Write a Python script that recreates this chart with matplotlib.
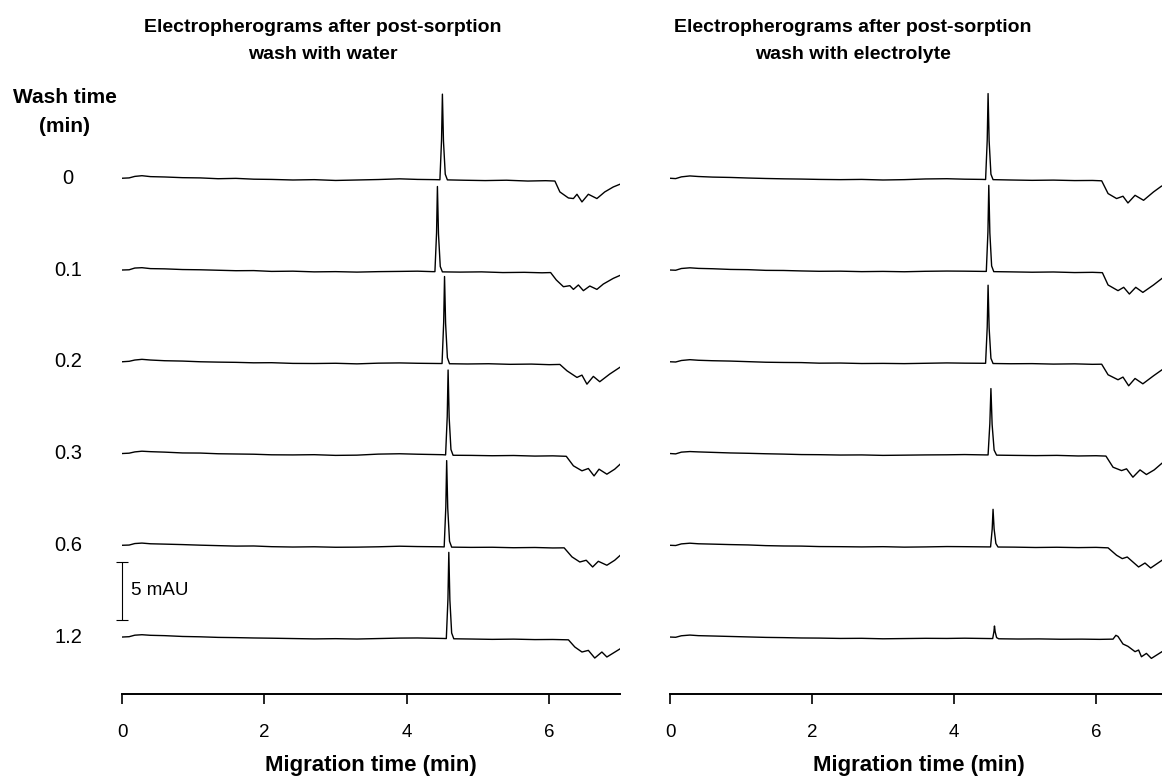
import matplotlib
matplotlib.use('Agg')
import matplotlib.pyplot as plt
from matplotlib.transforms import blended_transform_factory

plt.rcParams['font.family'] = ['Liberation Sans', 'DejaVu Sans']

## Data: (migration time [min], absorbance [mAU])
wash_times = ['0', '0.1', '0.2', '0.3', '0.6', '1.2']
panel_titles = ['Electropherograms after post-sorption\nwash with water',
                'Electropherograms after post-sorption\nwash with electrolyte']
x_ticks = [0, 2, 4, 6]
scale_mau = 5

# wash with water
water_0 = [(0.00, 0.00), (0.10, 0.03), (0.18, 0.16), (0.28, 0.22), (0.40, 0.14), (0.60, 0.11),
           (0.85, 0.05), (1.10, 0.03), (1.35, -0.04), (1.60, -0.01), (1.85, -0.08), (2.10, -0.10),
           (2.40, -0.15), (2.70, -0.12), (3.00, -0.19), (3.30, -0.15), (3.60, -0.11), (3.90, -0.05),
           (4.15, -0.10), (4.40, -0.12), (4.465, -0.13), (4.488, 3.30), (4.500, 7.25), (4.515, 3.20),
           (4.540, 0.35), (4.570, -0.14), (4.80, -0.17), (5.10, -0.20), (5.40, -0.17), (5.70, -0.24),
           (5.95, -0.21), (6.08, -0.24), (6.15, -1.18), (6.27, -1.70), (6.34, -1.75), (6.39, -1.38),
           (6.46, -2.04), (6.55, -1.38), (6.67, -1.75), (6.78, -1.18), (6.90, -0.75), (7.00, -0.50)]
water_1 = [(0.00, 0.00), (0.10, 0.02), (0.18, 0.17), (0.28, 0.20), (0.40, 0.12), (0.60, 0.10),
           (0.85, 0.04), (1.10, 0.02), (1.35, -0.02), (1.60, -0.06), (1.85, -0.05), (2.10, -0.12),
           (2.40, -0.10), (2.70, -0.16), (3.00, -0.14), (3.30, -0.18), (3.60, -0.14), (3.90, -0.12),
           (4.15, -0.10), (4.36, -0.14), (4.395, -0.14), (4.418, 3.20), (4.430, 7.20), (4.445, 3.10),
           (4.470, 0.30), (4.500, -0.16), (4.75, -0.18), (5.05, -0.16), (5.35, -0.22), (5.65, -0.20),
           (5.90, -0.24), (6.02, -0.22), (6.10, -0.86), (6.20, -1.44), (6.29, -1.35), (6.34, -1.67),
           (6.41, -1.29), (6.48, -1.78), (6.57, -1.38), (6.67, -1.67), (6.76, -1.21), (6.90, -0.72),
           (7.00, -0.45)]
water_2 = [(0.00, 0.00), (0.10, 0.04), (0.18, 0.15), (0.28, 0.21), (0.40, 0.15), (0.60, 0.09),
           (0.85, 0.06), (1.10, 0.00), (1.35, -0.03), (1.60, -0.05), (1.85, -0.09), (2.10, -0.08),
           (2.40, -0.14), (2.70, -0.15), (3.00, -0.13), (3.30, -0.18), (3.60, -0.12), (3.90, -0.10),
           (4.15, -0.13), (4.45, -0.15), (4.495, -0.15), (4.518, 3.40), (4.530, 7.35), (4.545, 3.30),
           (4.570, 0.35), (4.600, -0.17), (4.85, -0.19), (5.15, -0.17), (5.45, -0.22), (5.75, -0.20),
           (6.00, -0.25), (6.15, -0.23), (6.25, -0.78), (6.39, -1.35), (6.46, -1.15), (6.53, -1.93),
           (6.62, -1.26), (6.71, -1.72), (6.85, -1.06), (7.00, -0.45)]
water_3 = [(0.00, 0.00), (0.10, 0.03), (0.18, 0.14), (0.28, 0.20), (0.40, 0.16), (0.60, 0.12),
           (0.85, 0.05), (1.10, 0.04), (1.35, -0.02), (1.60, -0.04), (1.85, -0.06), (2.10, -0.11),
           (2.40, -0.12), (2.70, -0.10), (3.00, -0.16), (3.30, -0.14), (3.60, -0.05), (3.90, -0.02),
           (4.15, -0.06), (4.50, -0.10), (4.545, -0.12), (4.568, 3.20), (4.580, 7.20), (4.595, 3.10),
           (4.620, 0.35), (4.650, -0.15), (4.90, -0.16), (5.20, -0.19), (5.50, -0.17), (5.80, -0.22),
           (6.05, -0.20), (6.24, -0.24), (6.34, -1.06), (6.46, -1.49), (6.55, -1.29), (6.63, -1.93),
           (6.70, -1.35), (6.81, -1.78), (6.92, -1.35), (7.00, -0.90)]
water_4 = [(0.00, 0.00), (0.10, 0.02), (0.18, 0.15), (0.28, 0.19), (0.40, 0.13), (0.60, 0.10),
           (0.85, 0.06), (1.10, 0.01), (1.35, -0.03), (1.60, -0.07), (1.85, -0.06), (2.10, -0.12),
           (2.40, -0.15), (2.70, -0.13), (3.00, -0.17), (3.30, -0.16), (3.60, -0.13), (3.90, -0.08),
           (4.15, -0.11), (4.48, -0.13), (4.525, -0.14), (4.548, 3.30), (4.560, 7.30), (4.575, 3.20),
           (4.600, 0.35), (4.630, -0.16), (4.90, -0.18), (5.20, -0.17), (5.50, -0.21), (5.80, -0.19),
           (6.05, -0.23), (6.21, -0.22), (6.32, -1.00), (6.43, -1.44), (6.52, -1.29), (6.61, -1.87),
           (6.69, -1.38), (6.81, -1.72), (6.92, -1.29), (7.00, -0.85)]
water_5 = [(0.00, 0.00), (0.10, 0.03), (0.18, 0.16), (0.28, 0.20), (0.40, 0.15), (0.60, 0.12),
           (0.85, 0.05), (1.10, 0.02), (1.35, -0.03), (1.60, -0.05), (1.85, -0.08), (2.10, -0.10),
           (2.40, -0.13), (2.70, -0.16), (3.00, -0.14), (3.30, -0.17), (3.60, -0.13), (3.90, -0.09),
           (4.15, -0.08), (4.50, -0.12), (4.555, -0.13), (4.578, 3.30), (4.590, 7.30), (4.605, 3.20),
           (4.630, 0.35), (4.660, -0.15), (4.90, -0.17), (5.20, -0.20), (5.50, -0.18), (5.80, -0.22),
           (6.05, -0.21), (6.27, -0.24), (6.36, -0.86), (6.46, -1.29), (6.55, -1.15), (6.64, -1.81),
           (6.74, -1.29), (6.81, -1.72), (7.00, -1.00)]

# wash with electrolyte
electrolyte_0 = [(0.00, 0.00), (0.08, -0.03), (0.16, 0.12), (0.28, 0.20), (0.40, 0.15), (0.60, 0.10),
                 (0.85, 0.07), (1.10, 0.02), (1.35, -0.02), (1.60, -0.05), (1.85, -0.07), (2.10, -0.10),
                 (2.40, -0.12), (2.70, -0.10), (3.00, -0.15), (3.30, -0.12), (3.60, -0.06), (3.90, -0.04),
                 (4.15, -0.08), (4.40, -0.10), (4.445, -0.11), (4.468, 3.30), (4.480, 7.30), (4.495, 3.20),
                 (4.520, 0.35), (4.550, -0.12), (4.80, -0.15), (5.10, -0.18), (5.40, -0.16), (5.70, -0.20),
                 (5.95, -0.19), (6.08, -0.22), (6.17, -1.32), (6.29, -1.75), (6.38, -1.55), (6.45, -2.13),
                 (6.55, -1.47), (6.67, -1.90), (6.81, -1.18), (6.92, -0.69), (7.00, -0.45)]
electrolyte_1 = [(0.00, 0.00), (0.08, -0.02), (0.16, 0.13), (0.28, 0.19), (0.40, 0.14), (0.60, 0.11),
                 (0.85, 0.05), (1.10, 0.03), (1.35, -0.03), (1.60, -0.04), (1.85, -0.08), (2.10, -0.11),
                 (2.40, -0.10), (2.70, -0.14), (3.00, -0.12), (3.30, -0.15), (3.60, -0.11), (3.90, -0.09),
                 (4.15, -0.10), (4.42, -0.12), (4.455, -0.12), (4.478, 3.30), (4.490, 7.30), (4.505, 3.20),
                 (4.530, 0.35), (4.560, -0.14), (4.80, -0.16), (5.10, -0.19), (5.40, -0.17), (5.70, -0.22),
                 (5.95, -0.20), (6.09, -0.23), (6.17, -1.29), (6.31, -1.78), (6.39, -1.49), (6.47, -2.07),
                 (6.56, -1.49), (6.66, -1.93), (6.81, -1.29), (6.93, -0.72), (7.00, -0.50)]
electrolyte_2 = [(0.00, 0.00), (0.08, -0.02), (0.16, 0.11), (0.28, 0.18), (0.40, 0.13), (0.60, 0.09),
                 (0.85, 0.06), (1.10, 0.01), (1.35, -0.04), (1.60, -0.06), (1.85, -0.07), (2.10, -0.12),
                 (2.40, -0.11), (2.70, -0.15), (3.00, -0.14), (3.30, -0.16), (3.60, -0.13), (3.90, -0.10),
                 (4.15, -0.12), (4.40, -0.13), (4.445, -0.13), (4.468, 3.00), (4.480, 6.60), (4.495, 2.90),
                 (4.520, 0.30), (4.550, -0.15), (4.80, -0.17), (5.10, -0.16), (5.40, -0.20), (5.70, -0.18),
                 (5.95, -0.22), (6.08, -0.21), (6.17, -1.12), (6.31, -1.55), (6.38, -1.32), (6.46, -2.07),
                 (6.55, -1.44), (6.66, -1.90), (6.81, -1.21), (6.93, -0.69), (7.00, -0.45)]
electrolyte_3 = [(0.00, 0.00), (0.08, -0.03), (0.16, 0.12), (0.28, 0.17), (0.40, 0.14), (0.60, 0.10),
                 (0.85, 0.05), (1.10, 0.02), (1.35, -0.02), (1.60, -0.05), (1.85, -0.09), (2.10, -0.10),
                 (2.40, -0.13), (2.70, -0.12), (3.00, -0.16), (3.30, -0.14), (3.60, -0.12), (3.90, -0.11),
                 (4.15, -0.09), (4.45, -0.12), (4.480, -0.12), (4.505, 2.60), (4.520, 5.60), (4.537, 2.50),
                 (4.565, 0.30), (4.600, -0.14), (4.85, -0.16), (5.15, -0.18), (5.45, -0.16), (5.75, -0.21),
                 (6.00, -0.19), (6.14, -0.22), (6.24, -1.18), (6.36, -1.47), (6.43, -1.32), (6.52, -2.04),
                 (6.62, -1.41), (6.71, -1.81), (6.82, -1.41), (6.93, -0.83), (7.00, -0.60)]
electrolyte_4 = [(0.00, 0.00), (0.08, -0.02), (0.16, 0.12), (0.28, 0.18), (0.40, 0.13), (0.60, 0.10),
                 (0.85, 0.06), (1.10, 0.03), (1.35, -0.03), (1.60, -0.06), (1.85, -0.07), (2.10, -0.11),
                 (2.40, -0.12), (2.70, -0.14), (3.00, -0.12), (3.30, -0.16), (3.60, -0.14), (3.90, -0.11),
                 (4.15, -0.12), (4.48, -0.14), (4.515, -0.14), (4.538, 1.40), (4.550, 3.10), (4.565, 1.40),
                 (4.590, 0.15), (4.620, -0.15), (4.85, -0.16), (5.15, -0.19), (5.45, -0.17), (5.75, -0.20),
                 (6.00, -0.18), (6.17, -0.22), (6.29, -0.86), (6.37, -1.15), (6.44, -1.01), (6.60, -1.87),
                 (6.69, -1.53), (6.77, -1.96), (6.93, -1.29), (7.00, -1.00)]
electrolyte_5 = [(0.00, 0.00), (0.08, -0.02), (0.16, 0.11), (0.28, 0.17), (0.40, 0.12), (0.60, 0.09),
                 (0.85, 0.05), (1.10, 0.01), (1.35, -0.03), (1.60, -0.05), (1.85, -0.08), (2.10, -0.09),
                 (2.40, -0.12), (2.70, -0.11), (3.00, -0.15), (3.30, -0.13), (3.60, -0.11), (3.90, -0.12),
                 (4.15, -0.10), (4.50, -0.13), (4.545, -0.13), (4.562, 0.45), (4.570, 0.95), (4.580, 0.45),
                 (4.600, -0.05), (4.630, -0.15), (4.90, -0.17), (5.20, -0.16), (5.50, -0.19), (5.80, -0.18),
                 (6.05, -0.20), (6.24, -0.18), (6.28, 0.15), (6.31, 0.05), (6.38, -0.60), (6.45, -0.80),
                 (6.55, -1.26), (6.60, -1.12), (6.64, -1.70), (6.71, -1.41), (6.78, -1.84), (6.93, -1.26),
                 (7.00, -1.10)]

water_traces = [water_0, water_1, water_2, water_3, water_4, water_5]
electrolyte_traces = [electrolyte_0, electrolyte_1, electrolyte_2, electrolyte_3, electrolyte_4, electrolyte_5]


## Layout (pixels in a 1162 x 776 canvas)
W, H = 1162, 776
lowest_base = 4.91      # mAU above the time axis
trace_step = 7.91       # mAU between stacked traces
y_top = 52.93


def offset(i):
    return lowest_base + trace_step * (len(wash_times) - 1 - i)


fig = plt.figure(figsize=(W / 100, H / 100), dpi=100)
ax_l = fig.add_axes([122 / W, 82 / H, 498.4 / W, 614 / H])
ax_r = fig.add_axes([670 / W, 82 / H, 497 / W, 614 / H])

for ax, traces in [(ax_l, water_traces), (ax_r, electrolyte_traces)]:
    for i, tr in enumerate(traces):
        t = [p[0] for p in tr]
        a = [p[1] + offset(i) for p in tr]
        ax.plot(t, a, color='black', lw=1.0, solid_joinstyle='round')
    ax.set_xlim(0, 7)
    ax.set_ylim(0, y_top)
    for s in ['top', 'left', 'right']:
        ax.spines[s].set_visible(False)
    ax.spines['bottom'].set_linewidth(1.4)
    ax.set_yticks([])
    ax.set_xticks(x_ticks)
    ax.tick_params(axis='x', length=7, width=1.2, pad=14.5, labelsize=13.5)
    ax.set_xlabel('Migration time (min)', fontsize=16, fontweight='bold', labelpad=10)

## Titles
fig.text(323 / W, 1 - 41 / H, panel_titles[0], ha='center', va='center',
         fontsize=14, fontweight='bold', linespacing=1.8)
fig.text(853 / W, 1 - 41 / H, panel_titles[1], ha='center', va='center',
         fontsize=14, fontweight='bold', linespacing=1.8)

## Wash time labels
fig.text(65 / W, 1 - 112 / H, 'Wash time\n(min)', ha='center', va='center',
         fontsize=15, fontweight='bold', linespacing=1.65)
trans = blended_transform_factory(fig.transFigure, ax_l.transData)
for i, lab in enumerate(wash_times):
    ax_l.text(68 / W, offset(i), lab, transform=trans, ha='center', va='center', fontsize=14.5)

## 5 mAU scale bar
bar_bottom = 6.38
ax_l.errorbar([0], [bar_bottom + scale_mau / 2], yerr=[scale_mau / 2], color='black',
              lw=0.8, capsize=4, capthick=0.8, clip_on=False)
ax_l.text(0.13, bar_bottom + scale_mau / 2, '%d mAU' % scale_mau, ha='left', va='center', fontsize=13.5)

fig.savefig('out.png', dpi=100)
